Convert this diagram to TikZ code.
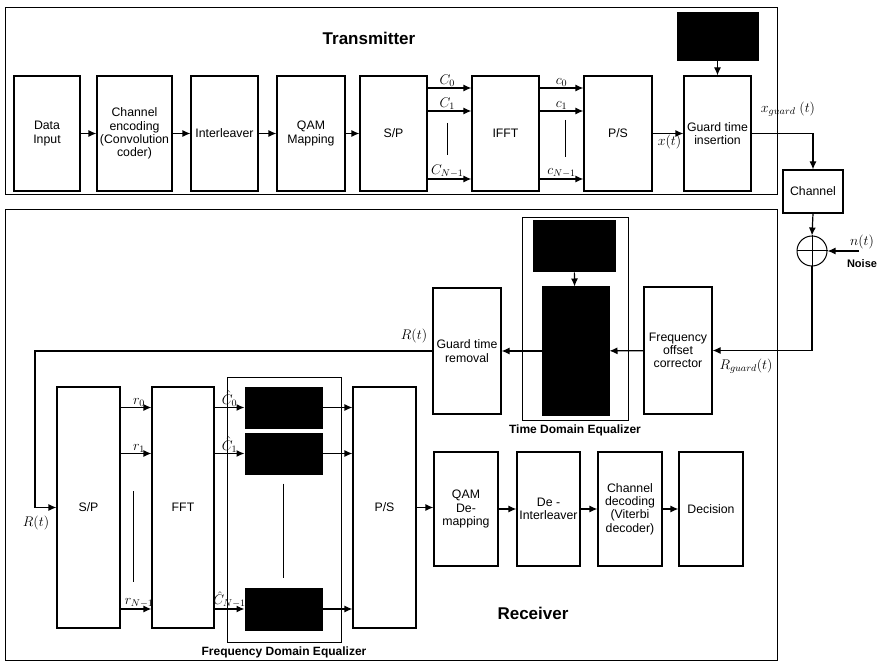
\documentclass[tikz,border=0pt]{standalone}
\usepackage{fix-cm}
\usepackage{fontspec}
\setmainfont{Liberation Sans}
\usetikzlibrary{arrows.meta,calc}

\begin{document}
\begin{tikzpicture}[
    x=1pt,
    y=-1pt,
    >={Latex[length=8pt,width=7pt]},
    box/.style={draw, line width=1.2pt, align=center, inner sep=0.5pt, font=\fontsize{12.3}{13.3}\selectfont},
    blackbox/.style={draw, fill=black, line width=1pt},
    frame/.style={draw, line width=1pt},
    eqframe/.style={draw, line width=0.7pt},
    eqlbl/.style={font=\bfseries\fontsize{12}{14}\selectfont},
    lbl/.style={font=\fontsize{14}{16}\selectfont, inner sep=0.5pt},
    title/.style={font=\bfseries\fontsize{17}{19}\selectfont},
    line/.style={->, line width=1.2pt},
    gap/.style={line width=0.8pt}
]
\useasboundingbox (0,0) rectangle (879,663);

% transmitter
\node[frame, minimum width=772pt, minimum height=187pt] (txframe) at (391,101) {};
\node[title] (txtitle) at (369,38) {Transmitter};
\node[box, minimum width=66pt, minimum height=115pt] (din) at (47,133.5) {Data\\Input};
\node[box, minimum width=75pt, minimum height=115pt] (cenc) at (134.5,133.5) {Channel\\encoding\\(Convolution\\coder)};
\node[box, minimum width=67pt, minimum height=115pt] (ilv) at (224.5,133.5) {Interleaver};
\node[box, minimum width=68pt, minimum height=115pt] (qam) at (311,133.5) {QAM\\Mapping};
\node[box, minimum width=67pt, minimum height=115pt] (sp) at (393.5,133.5) {S/P};
\node[box, minimum width=67pt, minimum height=115pt] (ifft) at (505.5,133.5) {IFFT};
\node[box, minimum width=68pt, minimum height=115pt] (ps) at (618,133.5) {P/S};
\node[box, minimum width=67pt, minimum height=115pt] (gins) at (717.5,133.5) {Guard time\\insertion};
\node[blackbox, minimum width=81pt, minimum height=48pt] (gtop) at (717.5,37) {};

\draw[line] (din) -- (cenc);
\draw[line] (cenc) -- (ilv);
\draw[line] (ilv) -- (qam);
\draw[line] (qam) -- (sp);
\draw[line] ([yshift=45.5pt]sp.east) -- node[lbl, above, pos=0.45] {$C_0$} ([yshift=45.5pt]ifft.west);
\draw[line] ([yshift=22.5pt]sp.east) -- node[lbl, above, pos=0.45] {$C_1$} ([yshift=22.5pt]ifft.west);
\draw[line] ([yshift=-45.5pt]sp.east) -- node[lbl, above, pos=0.45] {$C_{N-1}$} ([yshift=-45.5pt]ifft.west);
\draw[gap] (447,123) -- (447,155);
\draw[line] ([yshift=45.5pt]ifft.east) -- node[lbl, above, pos=0.5] {$c_0$} ([yshift=45.5pt]ps.west);
\draw[line] ([yshift=22.5pt]ifft.east) -- node[lbl, above, pos=0.5] {$c_1$} ([yshift=22.5pt]ps.west);
\draw[line] ([yshift=-45.5pt]ifft.east) -- node[lbl, above, pos=0.5] {$c_{N-1}$} ([yshift=-45.5pt]ps.west);
\draw[gap] (565,120) -- (565,157);
\draw[line] (ps) -- node[lbl, below, pos=0.55] {$x(t)$} (gins);
\draw[line] (gtop) -- (gins);

% channel and noise
\node[box, minimum width=60pt, minimum height=43pt] (chan) at (813,191.5) {Channel};
\node[lbl] (xgrd) at (788,109) {$x_{guard}\ (t)$};
\draw[line] (gins.east) -| (chan.north);
\node[draw, circle, line width=1pt, minimum size=30pt, inner sep=0pt] (sum) at (812,251) {};
\draw[line width=1pt] (sum.north) -- (sum.south) (sum.west) -- (sum.east);
\draw[line] (chan.south) -- (sum.north);
\coordinate (nin) at (859,251);
\draw[line] (nin) -- (sum.east);
\node[lbl] (nt) at (862,242) {$n(t)$};
\node[font=\bfseries\fontsize{11}{13}\selectfont] (noise) at (862,264) {Noise};

% receiver
\node[frame, minimum width=772pt, minimum height=450pt] (rxframe) at (391,435) {};
\node[title] (rxtitle) at (533,613) {Receiver};
\node[box, minimum width=68pt, minimum height=127pt] (freq) at (678,350.5) {Frequency\\offset\\corrector};
\node[eqframe, minimum width=106pt, minimum height=203pt, label={[eqlbl, label distance=1pt]below:Time Domain Equalizer}] (tde) at (575,318.5) {};
\node[blackbox, minimum width=82pt, minimum height=51pt] (tdetop) at (574,246.5) {};
\node[blackbox, minimum width=67pt, minimum height=128pt] (tdeq) at (575.5,351) {};
\node[box, minimum width=68pt, minimum height=126pt] (grem) at (467,351) {Guard time\\removal};
\node[lbl] (rgrd) at (746,366) {$R_{guard}(t)$};
\draw[line] (sum.south) |- (freq.east);
\draw[line] (tdetop) -- (tdeq);
\draw[line] (freq) -- (tdeq);
\draw[line] (tdeq) -- (grem);

\node[box, minimum width=63pt, minimum height=241pt] (sprx) at (88.5,507.5) {S/P};
\node[box, minimum width=62pt, minimum height=241pt] (fft) at (183,507.5) {FFT};
\node[eqframe, minimum width=114pt, minimum height=265pt, label={[eqlbl, label distance=1pt]below:Frequency Domain Equalizer}] (fde) at (284,509.5) {};
\node[blackbox, minimum width=77pt, minimum height=41pt] (eq0) at (283.5,407.5) {};
\node[blackbox, minimum width=77pt, minimum height=41pt] (eq1) at (283.5,453.5) {};
\node[blackbox, minimum width=77pt, minimum height=42pt] (eq2) at (283.5,609) {};
\node[box, minimum width=63pt, minimum height=241pt] (psrx) at (384.5,507.5) {P/S};

\node[lbl] (rt1) at (414,336) {$R(t)$};
\node[lbl] (rt2) at (36,523) {$R(t)$};
\coordinate (rturn) at (35,351);
\draw[line] (grem.west) -- (rturn) |- (sprx.west);

\draw[line] (sprx.east |- eq0) -- node[lbl, above, pos=0.6] {$r_0$} (fft.west |- eq0);
\draw[line] (sprx.east |- eq1) -- node[lbl, above, pos=0.6] {$r_1$} (fft.west |- eq1);
\draw[line] (sprx.east |- eq2) -- node[lbl, above, pos=0.6] {$r_{N-1}$} (fft.west |- eq2);
\draw[gap] (133,491) -- (133,582);
\draw[line] (fft.east |- eq0) -- node[lbl, above, pos=0.5] {$\hat{C}_0$} (eq0.west);
\draw[line] (fft.east |- eq1) -- node[lbl, above, pos=0.5] {$\hat{C}_1$} (eq1.west);
\draw[line] (fft.east |- eq2) -- node[lbl, above, pos=0.5] {$\hat{C}_{N-1}$} (eq2.west);
\draw[gap] ([yshift=-9pt]eq1.south) -- ([yshift=10pt]eq2.north);
\draw[line] (eq0.east) -- (psrx.west |- eq0);
\draw[line] (eq1.east) -- (psrx.west |- eq1);
\draw[line] (eq2.east) -- (psrx.west |- eq2);

\node[box, minimum width=64pt, minimum height=114pt] (qdm) at (466,509) {QAM\\De-\\mapping};
\node[box, minimum width=63pt, minimum height=114pt] (dint) at (548.5,509) {De -\\Interleaver};
\node[box, minimum width=64pt, minimum height=114pt] (cdec) at (630,509) {Channel\\decoding\\(Viterbi\\decoder)};
\node[box, minimum width=64pt, minimum height=114pt] (dec) at (711,509) {Decision};
\draw[line] (psrx.east) -- (qdm.west |- psrx.east);
\draw[line] (qdm) -- (dint);
\draw[line] (dint) -- (cdec);
\draw[line] (cdec) -- (dec);
\end{tikzpicture}
\end{document}
